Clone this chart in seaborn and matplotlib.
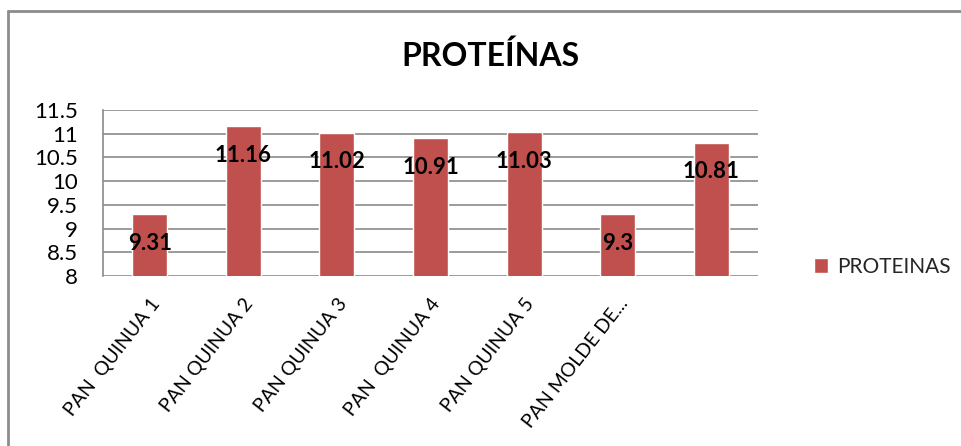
import matplotlib
matplotlib.use("Agg")
import matplotlib.pyplot as plt
import seaborn as sns
import pandas as pd
from matplotlib.ticker import MultipleLocator, FuncFormatter
from matplotlib.lines import Line2D

categories = ["PAN  QUINUA 1", "PAN QUINUA 2", "PAN QUINUA 3", "PAN  QUINUA 4",
              "PAN QUINUA 5", "PAN MOLDE DE...", ""]
values = [9.31, 11.16, 11.02, 10.91, 11.03, 9.3, 10.81]
value_labels = ["9.31", "11.16", "11.02", "10.91", "11.03", "9.3", "10.81"]
series_name = "PROTEINAS"
title = "PROTEÍNAS"

sns.set_theme(style="white")
plt.rcParams["font.family"] = ["Lato", "DejaVu Sans"]

df = pd.DataFrame({"cat": range(len(categories)), "val": values})

fig = plt.figure(figsize=(9.62, 4.46), dpi=100)
ax = fig.add_axes([103/962, 1-276/446, (758-103)/962, (276-110)/446])

sns.barplot(data=df, x="cat", y="val", color="#C0504D", saturation=1,
            width=0.375, label=series_name, ax=ax, zorder=3)
if ax.get_legend() is not None:
    ax.get_legend().remove()

ax.set_ylim(8, 11.5)
ax.yaxis.set_major_locator(MultipleLocator(0.5))
ax.yaxis.set_major_formatter(FuncFormatter(lambda v, p: f"{v:g}"))
ax.grid(axis="y", color="#8a8a8a", linewidth=1.2, zorder=0)
ax.set_axisbelow(True)
for s in ["top", "right", "bottom"]:
    ax.spines[s].set_visible(False)
ax.spines["left"].set_color("#8a8a8a")
ax.spines["left"].set_linewidth(1.2)
ax.tick_params(axis="y", length=0, pad=18, labelsize=16, labelcolor="black")
ax.tick_params(axis="x", length=0, pad=14, labelsize=14, labelcolor="black")
ax.set_xticks(range(len(categories)))
ax.set_xticklabels(categories, rotation=52, ha="right", rotation_mode="anchor")
ax.set_xlabel("")
ax.set_ylabel("")

for i, (v, t) in enumerate(zip(values, value_labels)):
    ax.annotate(t, xy=(i, v), xytext=(0, -21), textcoords="offset points",
                ha="center", va="center", fontsize=16, fontweight="bold",
                color="black", zorder=5)

fig.text(490/962, 1-56/446, title, ha="center", va="center",
         fontsize=23, fontweight="bold", color="black")

handles, labels = ax.get_legend_handles_labels()
fig.legend(handles, labels, loc="center left", bbox_to_anchor=(795/962, 1-267/446),
           frameon=False, fontsize=15, handlelength=0.7, handleheight=0.7,
           handletextpad=0.4)

fig.add_artist(Line2D([8/962, 1.0], [1-11/446, 1-11/446], color="#8c8c8c",
                      linewidth=2, transform=fig.transFigure))
fig.add_artist(Line2D([8/962, 8/962], [1-11/446, 0], color="#8c8c8c",
                      linewidth=2, transform=fig.transFigure))

fig.savefig("out.png", dpi=100)
